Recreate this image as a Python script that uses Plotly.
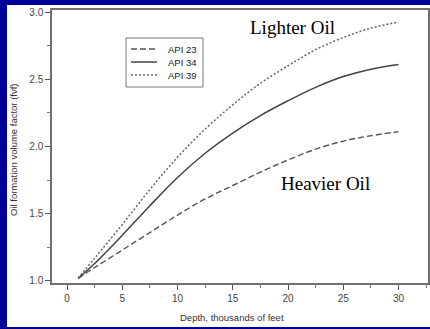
import plotly.graph_objects as go

depth = [1, 2.5, 5, 7.5, 10, 12.5, 15, 17.5, 20, 22.5, 25, 27.5, 30]
api23 = [1.02, 1.10, 1.23, 1.36, 1.49, 1.61, 1.71, 1.81, 1.90, 1.98, 2.04, 2.08, 2.11]
api34 = [1.02, 1.13, 1.34, 1.56, 1.77, 1.95, 2.10, 2.23, 2.34, 2.44, 2.52, 2.575, 2.61]
api39 = [1.02, 1.17, 1.42, 1.68, 1.92, 2.13, 2.31, 2.47, 2.60, 2.72, 2.81, 2.88, 2.925]
series_names = ["API 23", "API 34", "API 39"]

W, H = 430, 329
L, R, T, B = 52, 2, 10, 46
pw, ph = W - L - R, H - T - B
BLUE = "#000099"

def px(xp):
    return (xp - L) / pw

def py(yp):
    return (H - B - yp) / ph

styles = [
    dict(color="#555555", width=1.4, dash="6px,3px"),
    dict(color="#444444", width=1.5, dash="solid"),
    dict(color="#666666", width=1.5, dash="2px,2px"),
]

fig = go.Figure()
for name, vals, st in zip(series_names, [api23, api34, api39], styles):
    fig.add_trace(go.Scatter(x=depth, y=vals, name=name, mode="lines", showlegend=False,
                             line=dict(shape="spline", smoothing=1.0, **st)))

axis_common = dict(
    showgrid=False, zeroline=False, showline=True, linecolor="#707070", linewidth=1.5,
    mirror=True, ticks="outside", ticklen=5, tickwidth=1, tickcolor="#555555",
    tickfont=dict(family="Arial", size=10, color="#444444"), automargin=False,
)

fig.update_xaxes(**axis_common, range=[-1.36, 32.67], tickvals=[0, 5, 10, 15, 20, 25, 30],
                 minor=dict(ticks="outside", ticklen=3, tickcolor="#777777", dtick=2.5, tick0=0))
fig.update_yaxes(**axis_common, range=[0.985, 3.015], tickvals=[1.0, 1.5, 2.0, 2.5, 3.0], tickformat=".1f",
                 minor=dict(ticks="outside", ticklen=3, tickcolor="#777777", dtick=0.25, tick0=1.0))

# blue slide border (left, top, bottom)
for (x0, x1, y0, y1) in [(0, 7, 0, 329), (0, 430, 0, 5), (0, 430, 327, 329)]:
    fig.add_shape(type="rect", xref="paper", yref="paper", x0=px(x0), x1=px(x1), y0=py(y1), y1=py(y0),
                  fillcolor=BLUE, line=dict(width=0), layer="below")

# axis titles
fig.add_annotation(xref="paper", yref="paper", x=px(232), y=py(317), text="Depth, thousands of feet",
                   xanchor="center", yanchor="middle",
                   showarrow=False, font=dict(family="Arial", size=9.5, color="#333333"))
fig.add_annotation(xref="paper", yref="paper", x=px(13), y=py(150), text="Oil formation volume factor (fvf)",
                   xanchor="center", yanchor="middle",
                   showarrow=False, textangle=-90, font=dict(family="Arial", size=9.5, color="#333333"))

# legend (manual, compact)
fig.add_shape(type="rect", xref="paper", yref="paper", x0=px(126), x1=px(203), y0=py(87), y1=py(38),
              fillcolor="white", line=dict(color="#777777", width=1))
for i, (name, st) in enumerate(zip(series_names, styles)):
    yy = 49 + 13 * i
    fig.add_shape(type="line", xref="paper", yref="paper", x0=px(131), x1=px(157), y0=py(yy), y1=py(yy),
                  line=st)
    fig.add_annotation(xref="paper", yref="paper", x=px(166), y=py(yy), text=name,
                       xanchor="left", yanchor="middle",
                       showarrow=False, font=dict(family="Arial", size=9.5, color="#222222"))

fig.add_annotation(x=20.45, y=2.888, text="Lighter Oil", showarrow=False,
                   xanchor="center", yanchor="middle",
                   font=dict(family="Liberation Serif", size=19, color="black"))
fig.add_annotation(x=23.35, y=1.724, text="Heavier Oil", showarrow=False,
                   xanchor="center", yanchor="middle",
                   font=dict(family="Liberation Serif", size=19, color="black"))

fig.update_layout(
    width=W, height=H, margin=dict(l=L, r=R, t=T, b=B),
    paper_bgcolor="white", plot_bgcolor="white", showlegend=False,
)

fig.write_html("out.html", config={"displayModeBar": False},
               post_script="document.body.style.margin='0';document.body.style.overflow='hidden';")
